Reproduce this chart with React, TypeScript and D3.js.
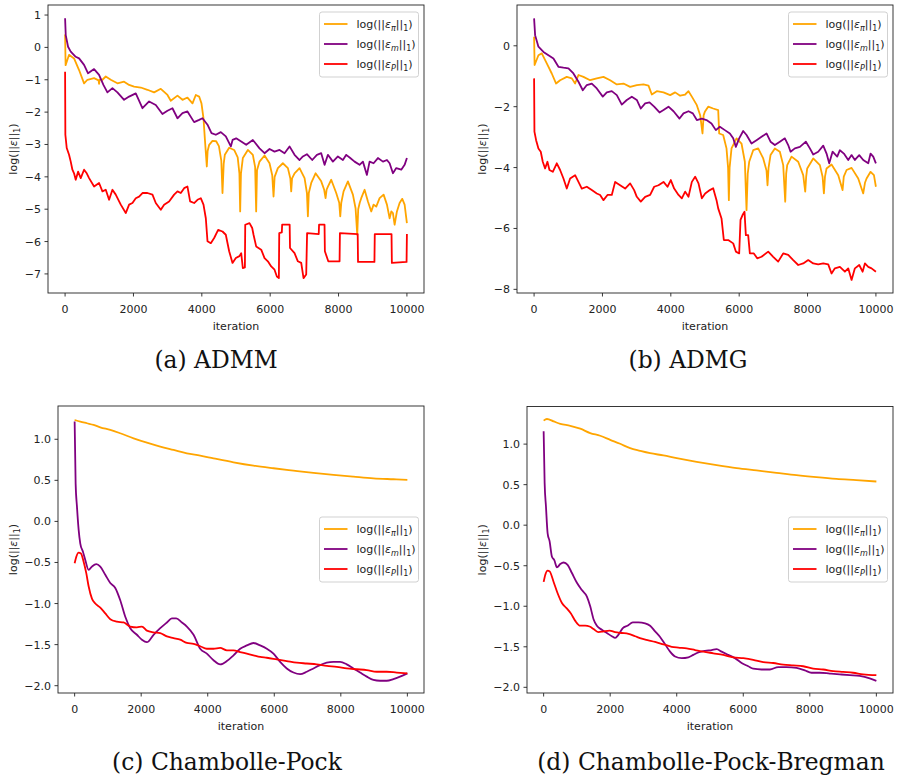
import React from "react";
import * as d3 from "d3";

type Pt = [number, number];

// ---- tick labels / categories ----
const iterTicks = [0, 2000, 4000, 6000, 8000, 10000];
const admmYTicks = [1, 0, -1, -2, -3, -4, -5, -6, -7];
const admgYTicks = [0, -2, -4, -6, -8];
const cpYTicks = [1.0, 0.5, 0.0, -0.5, -1.0, -1.5, -2.0];
const seriesSubs = ["π", "m", "P"];
const seriesColors = ["#ffa500", "#800080", "#ff0000"];
const captions = ["(a) ADMM", "(b) ADMG", "(c) Chambolle-Pock", "(d) Chambolle-Pock-Bregman"];

// ---- (a) ADMM ----
const admmPi: Pt[] = [
  [0, 0.4], [15, -0.55], [116, -0.23], [262, -0.34], [409, -0.7], [555, -1.11], [653, -1.0], [848, -0.95],
  [980, -1.02], [994, -1.13], [1010, -1.0], [1092, -1.0], [1190, -0.9], [1336, -1.0], [1531, -1.11], [1726, -1.06],
  [1873, -1.16], [2019, -1.21], [2214, -1.24], [2409, -1.31], [2604, -1.39], [2800, -1.28], [2995, -1.47], [3092, -1.65],
  [3288, -1.49], [3434, -1.62], [3580, -1.55], [3727, -1.73], [3824, -1.47], [3922, -1.52], [3990, -1.73], [4049, -2.19],
  [4088, -2.81], [4146, -3.68], [4170, -3.2], [4215, -3.01], [4312, -2.89], [4420, -2.9], [4500, -3.05], [4570, -3.5],
  [4605, -4.5], [4640, -3.6], [4673, -3.32], [4800, -3.1], [4946, -3.17], [5050, -3.4], [5100, -3.9], [5122, -5.07],
  [5145, -3.9], [5200, -3.42], [5347, -3.17], [5493, -3.32], [5560, -3.7], [5590, -5.07], [5615, -3.8], [5688, -3.53],
  [5835, -3.34], [5981, -3.58], [6060, -3.95], [6098, -4.61], [6130, -4.0], [6225, -3.73], [6371, -3.58], [6518, -3.73],
  [6590, -4.05], [6615, -4.45], [6640, -4.05], [6713, -3.89], [6859, -3.73], [7006, -4.04], [7075, -4.5], [7103, -5.22],
  [7130, -4.5], [7201, -4.19], [7328, -3.89], [7493, -4.14], [7580, -4.4], [7620, -4.66], [7650, -4.4], [7689, -4.3],
  [7786, -4.09], [7932, -4.5], [8020, -4.8], [8050, -5.22], [8080, -4.8], [8147, -4.45], [8274, -4.14], [8420, -4.55],
  [8498, -4.97], [8547, -5.79], [8575, -5.0], [8620, -4.8], [8664, -4.66], [8762, -4.4], [8860, -4.76], [8957, -5.07],
  [9025, -4.86], [9103, -4.92], [9201, -4.66], [9318, -4.55], [9416, -4.86], [9494, -5.28], [9543, -5.07], [9591, -5.12],
  [9640, -5.48], [9708, -5.07], [9786, -4.81], [9864, -4.68], [9933, -4.86], [10000, -5.43],
];
const admmM: Pt[] = [
  [0, 0.9], [19, 0.38], [87, 0.02], [165, -0.13], [311, -0.29], [409, -0.34], [555, -0.54], [672, -0.8], [848, -0.67],
  [994, -0.85], [1121, -1.16], [1238, -1.39], [1385, -1.26], [1531, -1.39], [1726, -1.62], [1873, -1.52], [2068, -1.42],
  [2263, -1.88], [2458, -1.67], [2653, -1.78], [2848, -2.06], [2995, -1.96], [3141, -1.88], [3288, -2.19], [3434, -2.03],
  [3580, -1.98], [3775, -2.31], [3922, -2.24], [4020, -2.19], [4166, -2.39], [4283, -2.65], [4410, -2.7], [4556, -2.62],
  [4702, -2.75], [4849, -3.06], [4900, -2.86], [5005, -2.81], [5152, -2.91], [5298, -3.01], [5493, -2.86], [5688, -3.12],
  [5835, -3.27], [5981, -3.14], [6127, -3.22], [6274, -3.17], [6420, -3.27], [6566, -3.06], [6713, -3.32], [6859, -3.48],
  [6957, -3.37], [7074, -3.3], [7230, -3.48], [7367, -3.32], [7493, -3.27], [7591, -3.63], [7689, -3.32], [7835, -3.53],
  [7981, -3.37], [8128, -3.48], [8225, -3.32], [8342, -3.42], [8469, -3.53], [8615, -3.63], [8713, -3.53], [8830, -3.94],
  [8908, -3.53], [9025, -3.58], [9152, -3.42], [9299, -3.53], [9416, -3.48], [9494, -3.58], [9591, -3.89], [9689, -3.73],
  [9835, -3.78], [9933, -3.63], [10000, -3.42],
];
const admmP: Pt[] = [
  [0, -0.75], [8, -2.7], [48, -3.11], [116, -3.32], [165, -3.53], [214, -3.78], [262, -3.89], [311, -4.09], [380, -3.84],
  [458, -4.04], [555, -3.78], [633, -3.89], [702, -4.04], [848, -4.3], [994, -4.19], [1092, -4.45], [1190, -4.4],
  [1287, -4.71], [1385, -4.4], [1482, -4.55], [1629, -4.86], [1775, -5.12], [1873, -4.86], [1970, -4.81], [2068, -4.66],
  [2165, -4.61], [2263, -4.5], [2409, -4.5], [2556, -4.55], [2653, -4.81], [2800, -5.02], [2897, -4.86], [3043, -4.76],
  [3190, -4.55], [3288, -4.45], [3385, -4.5], [3483, -4.35], [3580, -4.3], [3658, -4.76], [3775, -4.81], [3873, -4.71],
  [3970, -4.66], [4049, -4.86], [4117, -5.28], [4166, -5.99], [4263, -6.05], [4361, -5.89], [4478, -5.64], [4605, -5.69],
  [4702, -5.79], [4800, -6.3], [4898, -6.66], [4995, -6.51], [5100, -6.45], [5152, -6.36], [5200, -6.82], [5260, -6.8],
  [5270, -5.48], [5395, -5.43], [5474, -5.58], [5513, -5.79], [5590, -6.15], [5737, -6.25], [5835, -6.51], [5932, -6.61],
  [6030, -6.77], [6127, -6.87], [6196, -7.08], [6254, -7.13], [6265, -5.74], [6340, -5.72], [6350, -5.48], [6570, -5.48],
  [6580, -6.2], [6713, -6.36], [6810, -6.61], [6908, -6.66], [6976, -7.13], [7054, -7.02], [7080, -5.74], [7420, -5.77],
  [7430, -5.48], [7590, -5.48], [7600, -6.3], [7700, -6.61], [8030, -6.61], [8040, -5.74], [8560, -5.77], [8570, -6.63],
  [9050, -6.63], [9060, -5.77], [9550, -5.77], [9560, -6.66], [9990, -6.63], [10000, -5.77],
];

// ---- (b) ADMG ----
const admgPi: Pt[] = [
  [0, 0.3], [15, -0.63], [127, -0.31], [225, -0.25], [371, -0.58], [517, -0.91], [644, -1.24], [761, -1.13], [956, -1.02],
  [1103, -1.07], [1200, -1.24], [1298, -0.96], [1444, -1.02], [1639, -1.13], [1834, -1.07], [2030, -1.02], [2225, -1.13],
  [2420, -1.27], [2615, -1.24], [2810, -1.35], [3005, -1.29], [3200, -1.27], [3347, -1.31], [3444, -1.6], [3591, -1.49],
  [3786, -1.53], [3981, -1.62], [4127, -1.53], [4273, -1.64], [4420, -1.6], [4517, -1.49], [4615, -1.67], [4761, -1.95],
  [4859, -2.28], [4927, -2.88], [4960, -2.28], [4995, -2.17], [5093, -2.0], [5239, -2.06], [5386, -2.11], [5415, -2.88],
  [5532, -2.93], [5629, -3.37], [5675, -4.0], [5698, -5.07], [5720, -4.0], [5776, -3.37], [5922, -3.04], [6068, -3.21],
  [6166, -3.81], [6215, -5.4], [6250, -4.2], [6293, -3.81], [6410, -3.43], [6556, -3.37], [6703, -3.7], [6800, -4.1],
  [6829, -4.58], [6860, -4.0], [6917, -3.59], [7044, -3.37], [7190, -3.48], [7288, -3.92], [7347, -5.12], [7375, -4.2],
  [7405, -3.92], [7532, -3.64], [7727, -3.81], [7873, -4.25], [7932, -4.79], [7960, -4.3], [7990, -4.03], [8166, -3.7],
  [8361, -3.92], [8440, -4.3], [8478, -4.85], [8510, -4.3], [8556, -4.03], [8702, -3.9], [8898, -4.25], [9024, -4.74],
  [9060, -4.3], [9142, -4.08], [9288, -4.01], [9483, -4.36], [9629, -4.85], [9680, -4.5], [9727, -4.36], [9844, -4.14],
  [9942, -4.25], [10000, -4.63],
];
const admgM: Pt[] = [
  [0, 0.9], [30, 0.35], [127, -0.03], [274, -0.2], [420, -0.31], [566, -0.42], [712, -0.69], [859, -0.72], [1005, -0.74],
  [1151, -0.91], [1298, -1.18], [1425, -1.46], [1542, -1.29], [1688, -1.24], [1834, -1.4], [2010, -1.67], [2127, -1.53],
  [2273, -1.49], [2420, -1.62], [2566, -1.93], [2712, -1.78], [2859, -1.67], [3005, -1.78], [3122, -2.06], [3249, -1.89],
  [3376, -1.86], [3513, -2.0], [3669, -2.19], [3786, -2.11], [3932, -2.0], [4079, -2.15], [4254, -2.39], [4371, -2.22],
  [4517, -2.15], [4644, -2.22], [4761, -2.44], [4908, -2.39], [5044, -2.44], [5190, -2.55], [5317, -2.77], [5434, -2.66],
  [5581, -2.77], [5727, -2.88], [5825, -3.04], [5903, -3.32], [6000, -3.04], [6117, -2.8], [6215, -2.93], [6361, -3.21],
  [6507, -3.1], [6654, -2.99], [6800, -2.88], [6917, -3.15], [7044, -3.26], [7190, -3.15], [7337, -3.04], [7434, -3.26],
  [7503, -3.48], [7629, -3.37], [7776, -3.32], [7951, -3.15], [8068, -3.37], [8166, -3.57], [8312, -3.48], [8459, -3.28],
  [8556, -3.54], [8634, -3.86], [8732, -3.48], [8868, -3.64], [8946, -3.43], [9063, -3.54], [9190, -3.75], [9288, -3.59],
  [9385, -3.75], [9512, -3.59], [9629, -3.75], [9776, -3.86], [9844, -3.54], [9922, -3.64], [10000, -3.86],
];
const admgP: Pt[] = [
  [0, -1.07], [10, -2.82], [59, -3.1], [127, -3.37], [195, -3.48], [254, -3.81], [322, -4.03], [390, -3.81], [449, -4.08],
  [547, -4.14], [664, -3.86], [761, -4.08], [859, -4.36], [956, -4.69], [1054, -4.36], [1200, -4.25], [1298, -4.47],
  [1395, -4.69], [1542, -4.63], [1688, -4.74], [1834, -4.85], [1932, -4.9], [2030, -5.07], [2147, -4.9], [2273, -4.9],
  [2371, -4.47], [2517, -4.58], [2664, -4.69], [2810, -4.52], [2927, -4.74], [3005, -4.96], [3122, -5.12], [3249, -4.96],
  [3395, -4.9], [3513, -4.63], [3639, -4.58], [3786, -4.47], [3903, -4.63], [4000, -4.41], [4098, -4.69], [4225, -4.9],
  [4322, -5.01], [4420, -4.79], [4517, -4.96], [4615, -4.47], [4712, -4.3], [4810, -4.52], [4908, -5.01], [5005, -4.85],
  [5142, -4.74], [5239, -4.68], [5337, -5.07], [5386, -5.34], [5483, -5.67], [5551, -6.38], [5678, -6.38], [5825, -6.49],
  [5903, -6.76], [6000, -6.82], [6039, -5.72], [6098, -5.56], [6156, -5.45], [6195, -6.22], [6263, -6.22], [6312, -6.82],
  [6429, -6.82], [6527, -6.98], [6654, -6.93], [6849, -6.76], [6995, -6.93], [7141, -7.09], [7288, -6.82], [7434, -6.87],
  [7581, -7.04], [7727, -7.2], [7873, -7.15], [8020, -7.04], [8166, -7.15], [8312, -7.18], [8459, -7.15], [8605, -7.18],
  [8702, -7.48], [8800, -7.31], [8946, -7.26], [9093, -7.42], [9190, -7.31], [9288, -7.69], [9385, -7.31], [9512, -7.2],
  [9610, -7.42], [9678, -7.15], [9776, -7.26], [9873, -7.31], [10000, -7.42],
];

// ---- (c) Chambolle-Pock ----
const cpPi: Pt[] = [
  [0, 1.235], [170, 1.215], [370, 1.195], [570, 1.175], [770, 1.146], [1071, 1.114], [1371, 1.073], [1772, 1.012],
  [2172, 0.959], [2573, 0.911], [2973, 0.87], [3373, 0.829], [3774, 0.801], [4174, 0.768], [4775, 0.72], [5375, 0.679],
  [5976, 0.647], [6577, 0.618], [7177, 0.59], [7778, 0.566], [8378, 0.545], [8979, 0.525], [9580, 0.513], [10000, 0.505],
];
const cpM: Pt[] = [
  [0, 1.215], [30, 0.46], [70, 0.18], [120, -0.1], [170, -0.27], [250, -0.37], [320, -0.47], [420, -0.59], [520, -0.55],
  [651, -0.52], [771, -0.55], [921, -0.65], [1071, -0.75], [1221, -0.81], [1371, -0.96], [1522, -1.16], [1672, -1.3],
  [1872, -1.38], [2022, -1.44], [2172, -1.47], [2372, -1.38], [2573, -1.3], [2773, -1.23], [2923, -1.18], [3053, -1.18],
  [3223, -1.23], [3373, -1.28], [3574, -1.38], [3774, -1.55], [3974, -1.61], [4174, -1.69], [4374, -1.74], [4575, -1.7],
  [4775, -1.63], [4975, -1.55], [5175, -1.51], [5375, -1.48], [5576, -1.51], [5776, -1.55], [5976, -1.61], [6176, -1.71],
  [6376, -1.79], [6577, -1.84], [6777, -1.86], [6977, -1.83], [7177, -1.79], [7377, -1.75], [7578, -1.72], [7778, -1.71],
  [7978, -1.71], [8178, -1.74], [8378, -1.79], [8579, -1.84], [8779, -1.89], [8979, -1.93], [9179, -1.94], [9379, -1.94],
  [9580, -1.92], [9780, -1.89], [10000, -1.85],
];
const cpP: Pt[] = [
  [0, -0.51], [50, -0.43], [120, -0.38], [190, -0.39], [270, -0.49], [350, -0.63], [420, -0.79], [520, -0.94], [621, -1.0],
  [771, -1.05], [921, -1.12], [1071, -1.19], [1271, -1.22], [1471, -1.23], [1672, -1.28], [1872, -1.29], [2022, -1.28],
  [2172, -1.33], [2372, -1.35], [2573, -1.36], [2773, -1.4], [2973, -1.42], [3173, -1.44], [3373, -1.48], [3574, -1.49],
  [3774, -1.52], [3974, -1.55], [4174, -1.55], [4374, -1.54], [4575, -1.57], [4775, -1.57], [4975, -1.59], [5175, -1.61],
  [5375, -1.63], [5576, -1.65], [5776, -1.66], [6076, -1.68], [6376, -1.7], [6677, -1.72], [6977, -1.73], [7277, -1.74],
  [7578, -1.76], [7878, -1.77], [8178, -1.79], [8478, -1.8], [8779, -1.81], [9079, -1.83], [9379, -1.83], [9680, -1.84],
  [10000, -1.85],
];

// ---- (d) Chambolle-Pock-Bregman ----
const cpbPi: Pt[] = [
  [0, 1.29], [100, 1.31], [300, 1.28], [500, 1.25], [800, 1.226], [1100, 1.19], [1400, 1.136], [1700, 1.103], [2000, 1.053],
  [2300, 1.004], [2600, 0.95], [2900, 0.918], [3200, 0.889], [3600, 0.86], [4000, 0.827], [4600, 0.782], [5200, 0.741],
  [5800, 0.704], [6400, 0.675], [7000, 0.646], [7600, 0.617], [8200, 0.593], [8800, 0.572], [9400, 0.556], [10000, 0.539],
];
const cpbM: Pt[] = [
  [0, 1.16], [30, 0.52], [70, 0.23], [120, -0.1], [180, -0.2], [250, -0.39], [320, -0.43], [400, -0.52], [500, -0.48],
  [600, -0.46], [720, -0.49], [850, -0.59], [1000, -0.71], [1150, -0.8], [1300, -0.88], [1400, -1.0], [1500, -1.16],
  [1600, -1.24], [1750, -1.29], [1900, -1.33], [2050, -1.37], [2150, -1.39], [2250, -1.35], [2380, -1.27], [2520, -1.24],
  [2680, -1.2], [2850, -1.2], [3050, -1.21], [3200, -1.24], [3350, -1.31], [3500, -1.38], [3650, -1.47], [3800, -1.56],
  [3950, -1.62], [4150, -1.64], [4350, -1.63], [4500, -1.6], [4650, -1.57], [4850, -1.55], [5050, -1.54], [5200, -1.53],
  [5350, -1.56], [5550, -1.6], [5750, -1.64], [5950, -1.7], [6150, -1.74], [6300, -1.77], [6550, -1.78], [6800, -1.78],
  [7050, -1.75], [7300, -1.75], [7600, -1.76], [7850, -1.79], [8050, -1.82], [8300, -1.82], [8600, -1.83], [8900, -1.84],
  [9200, -1.85], [9500, -1.86], [9800, -1.89], [10000, -1.92],
];
const cpbP: Pt[] = [
  [0, -0.7], [50, -0.61], [120, -0.56], [180, -0.57], [300, -0.7], [420, -0.84], [550, -0.96], [680, -1.02], [820, -1.09],
  [950, -1.18], [1100, -1.24], [1250, -1.24], [1380, -1.25], [1500, -1.28], [1650, -1.32], [1800, -1.31], [1980, -1.3],
  [2150, -1.32], [2350, -1.33], [2550, -1.34], [2750, -1.37], [2950, -1.4], [3150, -1.42], [3350, -1.44], [3600, -1.47],
  [3850, -1.5], [4050, -1.51], [4300, -1.52], [4550, -1.54], [4800, -1.56], [5100, -1.58], [5400, -1.6], [5700, -1.63],
  [6000, -1.64], [6300, -1.66], [6600, -1.69], [6900, -1.7], [7200, -1.72], [7500, -1.73], [7800, -1.74], [8100, -1.77],
  [8400, -1.78], [8700, -1.8], [9000, -1.81], [9300, -1.82], [9600, -1.84], [10000, -1.85],
];

const intFmt = (v: number) => String(v).replace("-", "−");
const decFmt = (v: number) => d3.format(".1f")(v).replace("-", "−");

const panels = [
  { box: [48, 5, 424, 293], yDomain: [-7.59, 1.31], yTicks: admmYTicks, fmt: intFmt, series: [admmPi, admmM, admmP],
    smooth: false, legendTop: 12, caption: captions[0], capX: 216, capY: 368, ylabX: 13 },
  { box: [517, 5, 893, 293], yDomain: [-8.12, 1.34], yTicks: admgYTicks, fmt: intFmt, series: [admgPi, admgM, admgP],
    smooth: false, legendTop: 12, caption: captions[1], capX: 688, capY: 368, ylabX: 482 },
  { box: [58, 406, 424, 693], yDomain: [-2.089, 1.405], yTicks: cpYTicks, fmt: decFmt, series: [cpPi, cpM, cpP],
    smooth: true, legendTop: 517, caption: captions[2], capX: 227, capY: 770, ylabX: 13 },
  { box: [527, 406.5, 893, 693], yDomain: [-2.07, 1.464], yTicks: cpYTicks, fmt: decFmt, series: [cpbPi, cpbM, cpbP],
    smooth: true, legendTop: 517, caption: captions[3], capX: 711, capY: 770, ylabX: 482 },
];

const SANS = "DejaVu Sans, sans-serif";
const FS = 11;

function NormLabel({ sub }: { sub?: string }) {
  return (
    <>
      log(||<tspan fontStyle="italic">ε</tspan>
      {sub ? <tspan fontStyle="italic" fontSize={8} dy={2.5}>{sub}</tspan> : null}
      <tspan dy={sub ? -2.5 : 0}>||</tspan>
      <tspan fontSize={8} dy={2.5}>1</tspan>
      <tspan dy={-2.5}>)</tspan>
    </>
  );
}

function Panel({ p }: { p: (typeof panels)[number] }) {
  const [x0, y0, x1, y1] = p.box;
  const x = d3.scaleLinear().domain([-500, 10500]).range([x0, x1]);
  const y = d3.scaleLinear().domain(p.yDomain).range([y1, y0]);
  const line = d3
    .line<Pt>()
    .x((d) => x(d[0]))
    .y((d) => y(d[1]))
    .curve(p.smooth ? d3.curveMonotoneX : d3.curveLinear);

  const lgW = 99;
  const lgX = x1 - 5.5 - lgW;
  const lgY = p.legendTop;

  return (
    <g>
      {p.series.map((s, i) => (
        <path key={i} d={line(s) ?? ""} fill="none" stroke={seriesColors[i]} strokeWidth={1.8} strokeLinejoin="round" />
      ))}
      <rect x={x0} y={y0} width={x1 - x0} height={y1 - y0} fill="none" stroke="#222" strokeWidth={0.9} />

      {iterTicks.map((t) => (
        <g key={t}>
          <line x1={x(t)} x2={x(t)} y1={y1} y2={y1 + 3.5} stroke="#222" strokeWidth={0.9} />
          <text x={x(t)} y={y1 + 19.5} textAnchor="middle" fontFamily={SANS} fontSize={FS} fill="#222">{t}</text>
        </g>
      ))}
      {p.yTicks.map((t) => (
        <g key={t}>
          <line x1={x0 - 3.5} x2={x0} y1={y(t)} y2={y(t)} stroke="#222" strokeWidth={0.9} />
          <text x={x0 - 7} y={y(t) + 4} textAnchor="end" fontFamily={SANS} fontSize={FS} fill="#222">{p.fmt(t)}</text>
        </g>
      ))}

      <text x={(x0 + x1) / 2} y={y1 + 37} textAnchor="middle" fontFamily={SANS} fontSize={FS} fill="#222">iteration</text>
      <g transform={`translate(${p.ylabX + 4},${(y0 + y1) / 2}) rotate(-90)`}>
        <text textAnchor="middle" fontFamily={SANS} fontSize={FS} fill="#222">
          <NormLabel />
        </text>
      </g>

      <rect x={lgX} y={lgY} width={lgW} height={65} rx={2.5} fill="white" fillOpacity={0.8} stroke="#cccccc" strokeWidth={0.9} />
      {seriesSubs.map((sub, i) => {
        const ry = lgY + 12 + i * 20;
        return (
          <g key={sub}>
            <line x1={lgX + 4.5} x2={lgX + 28} y1={ry} y2={ry} stroke={seriesColors[i]} strokeWidth={1.8} />
            <text x={lgX + 37} y={ry + 4} fontFamily={SANS} fontSize={FS} fill="#222">
              <NormLabel sub={sub} />
            </text>
          </g>
        );
      })}

      <text x={p.capX} y={p.capY} textAnchor="middle" fontFamily="DejaVu Serif, serif" fontSize={23.4} fill="#111">
        {p.caption}
      </text>
    </g>
  );
}

export default function App() {
  return (
    <div style={{ position: "absolute", left: 0, top: 0 }}>
      <svg width={897} height={782} style={{ display: "block", background: "white" }}>
        {panels.map((p, i) => (
          <Panel key={i} p={p} />
        ))}
      </svg>
    </div>
  );
}
